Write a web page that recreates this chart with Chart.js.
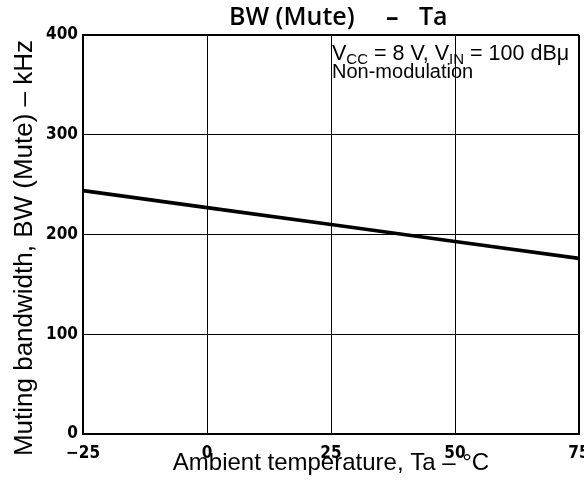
<!DOCTYPE html>
<html>
<head>
<meta charset="utf-8">
<script src="https://cdn.jsdelivr.net/npm/chart.js@4"></script>
<style>
html,body{margin:0;padding:0;background:#fff;}
canvas{display:block;}
</style>
</head>
<body>
<canvas id="c" width="584" height="482"></canvas>
<script>
// ---- data ----
const tempC = [-25, 0, 25, 50, 75];
const bwMuteKHz = [244, 227, 210, 193, 176];
const xTickValues = [-25, 0, 25, 50, 75];
const xTickLabels = ['\u221225', '0', '25', '50', '75'];
const yTickValues = [0, 100, 200, 300, 400];
const yTickLabels = ['0', '100', '200', '300', '400'];

const titleParts = ['BW (Mute)', '\u2013', 'Ta'];
const xTitle = 'Ambient temperature, Ta \u2013 \u00B0C';
const yTitle = 'Muting bandwidth, BW (Mute) \u2013 kHz';
const noteLine1 = [['V', false], ['CC', true], [' = 8 V, ', false], ['V', false], ['IN', true], [' = 100 dB\u03BC', false]];
const noteLine2 = 'Non-modulation';

const points = tempC.map((t, i) => ({x: t, y: bwMuteKHz[i]}));

const tickFont = {family: '"DejaVu Sans Condensed", "DejaVu Sans", sans-serif', size: 17, weight: 'bold'};

const textPlugin = {
  id: 'texts',
  beforeDraw(chart) {
    const ctx = chart.ctx;
    ctx.save();
    ctx.fillStyle = '#fff';
    ctx.fillRect(0, 0, chart.width, chart.height);
    ctx.restore();
  },
  afterDraw(chart) {
    const ctx = chart.ctx;
    ctx.save();
    ctx.fillStyle = '#000';
    ctx.textAlign = 'left';
    ctx.textBaseline = 'alphabetic';
    // title
    ctx.font = '600 25px "Open Sans", "DejaVu Sans", sans-serif';
    ctx.fillText(titleParts[0], 229, 25);
    ctx.font = '700 25px "Open Sans", "DejaVu Sans", sans-serif';
    ctx.fillText(titleParts[1], 386, 25);
    ctx.font = '600 25px "Open Sans", "DejaVu Sans", sans-serif';
    ctx.fillText(titleParts[2], 419, 25);
    // note
    let x = 332;
    const y = 60;
    for (const [t, isSub] of noteLine1) {
      ctx.font = isSub ? '15px "Liberation Sans", Arial, sans-serif' : '21.5px "Liberation Sans", Arial, sans-serif';
      ctx.fillText(t, x, isSub ? y + 4 : y);
      x += ctx.measureText(t).width;
    }
    ctx.font = '20px "Liberation Sans", Arial, sans-serif';
    ctx.fillText(noteLine2, 332, 78);
    // y title
    ctx.translate(32, 248);
    ctx.rotate(-Math.PI / 2);
    ctx.textAlign = 'center';
    ctx.font = '26px "Liberation Sans", Arial, sans-serif';
    ctx.fillText(yTitle, 0, 0);
    ctx.restore();
  }
};

new Chart(document.getElementById('c'), {
  type: 'line',
  data: {
    datasets: [{
      data: points,
      borderColor: '#000',
      borderWidth: 3.7,
      pointRadius: 0,
      tension: 0,
      fill: false
    }]
  },
  options: {
    responsive: false,
    animation: false,
    events: [],
    layout: {padding: {left: 0, right: 5, top: 35, bottom: 0}},
    plugins: {legend: {display: false}, tooltip: {enabled: false}, title: {display: false}},
    scales: {
      x: {
        type: 'linear',
        min: -25, max: 75,
        afterBuildTicks(s) { s.ticks = xTickValues.map(v => ({value: v})); },
        afterFit(s) { s.height = 48; s.paddingLeft = 0; s.paddingRight = 0; },
        ticks: {
          color: '#000',
          font: tickFont,
          padding: 9,
          maxRotation: 0,
          autoSkip: false,
          callback: (v) => xTickLabels[xTickValues.indexOf(v)]
        },
        grid: {
          color: '#000',
          lineWidth: (c) => (c.tick && c.tick.value === 75 ? 2 : 1),
          drawTicks: false
        },
        border: {display: true, color: '#000', width: 2},
        title: {
          display: true,
          text: xTitle,
          color: '#000',
          font: {family: '"Liberation Sans", Arial, sans-serif', size: 24},
          padding: {top: 0, bottom: 4}
        }
      },
      y: {
        type: 'linear',
        min: 0, max: 400,
        afterBuildTicks(s) { s.ticks = yTickValues.map(v => ({value: v})); },
        afterFit(s) { s.width = 83; s.paddingTop = 0; s.paddingBottom = 0; },
        ticks: {
          color: '#000',
          font: tickFont,
          padding: 5,
          autoSkip: false,
          callback: (v) => yTickLabels[yTickValues.indexOf(v)]
        },
        grid: {
          color: '#000',
          lineWidth: (c) => (c.tick && c.tick.value === 400 ? 2 : 1),
          drawTicks: false
        },
        border: {display: true, color: '#000', width: 2}
      }
    }
  },
  plugins: [textPlugin]
});
</script>
</body>
</html>
